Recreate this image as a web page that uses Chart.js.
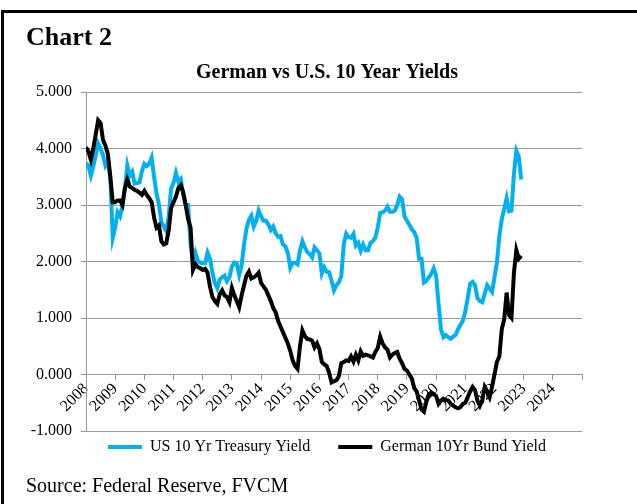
<!DOCTYPE html>
<html>
<head>
<meta charset="utf-8">
<script src="https://cdn.jsdelivr.net/npm/chart.js@4.4.1/dist/chart.umd.min.js"></script>
<style>
  html, body { margin: 0; padding: 0; background: #fff; }
  #wrap { position: relative; width: 637px; height: 504px; overflow: hidden; }
  #frame { position: absolute; left: 1px; top: 10px; width: 700px; height: 600px; border: 3px solid #000; box-sizing: border-box; }
  #heading { position: absolute; left: 26px; top: 24px; font: bold 26px/26px "Liberation Serif", serif; color: #000; }
  #source { position: absolute; left: 26px; top: 475px; font: 20px/20px "Liberation Serif", serif; color: #000; }
  #chart { position: absolute; left: 0; top: 0; }
</style>
</head>
<body>
<div id="wrap">
  <div id="frame"></div>
  <canvas id="chart" width="637" height="504"></canvas>
  <div id="heading">Chart 2</div>
  <div id="source">Source: Federal Reserve, FVCM</div>
</div>
<script>
// monthly data, Jan 2008 .. Dec 2022
const startYear = 2008;
const yearTicks = [2008, 2009, 2010, 2011, 2012, 2013, 2014, 2015, 2016, 2017, 2018, 2019, 2020, 2021, 2022, 2023, 2024];

const usYields = [
    3.74, 3.70, 3.52, 3.68, 3.88, 4.09, 4.00, 3.88, 3.70, 3.78, 3.50, 2.42, // 2008
    2.60, 2.87, 2.80, 3.00, 3.30, 3.70, 3.52, 3.59, 3.38, 3.39, 3.40, 3.60, // 2009
    3.73, 3.69, 3.73, 3.84, 3.50, 3.20, 3.01, 2.70, 2.62, 2.54, 2.80, 3.29, // 2010
    3.39, 3.57, 3.41, 3.46, 3.17, 3.00, 3.00, 2.30, 1.98, 2.15, 2.01, 1.98, // 2011
    1.97, 1.97, 2.16, 2.05, 1.80, 1.62, 1.53, 1.68, 1.72, 1.75, 1.65, 1.72, // 2012
    1.91, 1.98, 1.96, 1.76, 1.93, 2.30, 2.58, 2.74, 2.81, 2.62, 2.72, 2.90, // 2013
    2.80, 2.72, 2.72, 2.66, 2.56, 2.62, 2.50, 2.44, 2.45, 2.30, 2.27, 2.15, // 2014
    1.89, 1.98, 1.98, 1.95, 2.19, 2.36, 2.25, 2.17, 2.13, 2.07, 2.25, 2.20, // 2015
    2.14, 1.79, 1.90, 1.82, 1.81, 1.66, 1.49, 1.58, 1.63, 1.74, 2.30, 2.49, // 2016
    2.43, 2.42, 2.49, 2.28, 2.33, 2.19, 2.30, 2.20, 2.20, 2.33, 2.36, 2.42, // 2017
    2.60, 2.86, 2.87, 2.90, 2.97, 2.88, 2.88, 2.90, 3.00, 3.15, 3.10, 2.80, // 2018
    2.72, 2.65, 2.57, 2.52, 2.42, 2.05, 2.05, 1.63, 1.66, 1.72, 1.78, 1.88, // 2019
    1.75, 1.25, 0.80, 0.66, 0.70, 0.66, 0.63, 0.67, 0.70, 0.80, 0.88, 0.95, // 2020
    1.12, 1.35, 1.61, 1.64, 1.58, 1.35, 1.30, 1.28, 1.43, 1.58, 1.52, 1.46, // 2021
    1.72, 1.98, 2.45, 2.75, 2.93, 3.12, 2.89, 2.90, 3.55, 3.96, 3.86, 3.45  // 2022
];

const deYields = [
    4.02, 3.95, 3.80, 4.00, 4.25, 4.50, 4.45, 4.15, 4.05, 3.90, 3.50, 3.05, // 2008
    3.05, 3.08, 3.08, 3.00, 3.30, 3.45, 3.33, 3.30, 3.27, 3.25, 3.22, 3.18, // 2009
    3.25, 3.18, 3.12, 3.05, 2.78, 2.60, 2.64, 2.36, 2.30, 2.32, 2.55, 2.95, // 2010
    3.05, 3.15, 3.30, 3.35, 3.22, 3.00, 2.75, 2.60, 1.85, 1.95, 1.90, 1.88, // 2011
    1.85, 1.87, 1.80, 1.55, 1.37, 1.30, 1.25, 1.42, 1.49, 1.40, 1.37, 1.28, // 2012
    1.53, 1.40, 1.30, 1.19, 1.40, 1.58, 1.75, 1.82, 1.70, 1.72, 1.75, 1.80, // 2013
    1.62, 1.56, 1.50, 1.40, 1.30, 1.18, 1.10, 0.95, 0.85, 0.75, 0.65, 0.55, // 2014
    0.42, 0.25, 0.15, 0.10, 0.50, 0.78, 0.68, 0.63, 0.62, 0.60, 0.48, 0.55, // 2015
    0.45, 0.22, 0.18, 0.15, 0.03, -0.14, -0.12, -0.10, -0.03, 0.20, 0.22, 0.25, // 2016
    0.24, 0.32, 0.23, 0.35, 0.25, 0.41, 0.33, 0.35, 0.34, 0.32, 0.30, 0.40, // 2017
    0.47, 0.67, 0.55, 0.48, 0.44, 0.30, 0.35, 0.38, 0.40, 0.28, 0.20, 0.10, // 2018
    0.07, 0.00, -0.07, -0.24, -0.30, -0.46, -0.62, -0.66, -0.48, -0.35, -0.32, -0.35, // 2019
    -0.38, -0.52, -0.46, -0.43, -0.45, -0.46, -0.52, -0.55, -0.58, -0.60, -0.58, -0.52, // 2020
    -0.50, -0.40, -0.30, -0.22, -0.28, -0.46, -0.55, -0.45, -0.22, -0.30, -0.40, -0.22, // 2021
    0.00, 0.22, 0.32, 0.80, 0.98, 1.45, 1.05, 1.00, 1.80, 2.20, 2.05, 2.10  // 2022
];

const serif = '"Liberation Serif", "Times New Roman", serif';

// x = decimal year of each month
const toPoints = (values) => values.map((v, i) => ({ x: startYear + i / 12, y: v }));

const ctx = document.getElementById('chart');

new Chart(ctx, {
    type: 'line',
    data: {
        datasets: [{
            label: 'US 10 Yr Treasury Yield',
            data: toPoints(usYields),
            borderColor: '#00B0F0',
            backgroundColor: '#00B0F0',
            borderWidth: 4,
            pointRadius: 0,
            tension: 0,
            order: 1
        }, {
            label: 'German 10Yr Bund Yield',
            data: toPoints(deYields),
            borderColor: '#000000',
            backgroundColor: '#000000',
            borderWidth: 4,
            pointRadius: 0,
            tension: 0,
            order: 0
        }]
    },
    options: {
        responsive: false,
        animation: false,
        layout: {
            padding: { top: 10, left: 72, right: 55, bottom: 39 }
        },
        plugins: {
            title: {
                display: true,
                text: 'German vs U.S. 10 Year Yields',
                color: '#000',
                font: { family: serif, size: 20, weight: 'bold' },
                padding: { top: 51, bottom: 7 }
            },
            legend: {
                position: 'bottom',
                labels: {
                    color: '#000',
                    font: { family: serif, size: 16 },
                    usePointStyle: true,
                    pointStyle: 'line',
                    pointStyleWidth: 34,
                    padding: 8,
                    sort: (a, b) => a.datasetIndex - b.datasetIndex,
                    generateLabels: (chart) => {
                        const items = Chart.defaults.plugins.legend.labels.generateLabels(chart);
                        items.forEach(item => {
                            if (item.datasetIndex === 0) item.text += '\u00a0\u00a0\u00a0\u00a0\u00a0';
                        });
                        return items;
                    }
                }
            },
            tooltip: { enabled: false }
        },
        scales: {
            x: {
                type: 'linear',
                position: { y: 0 },
                min: 2008,
                max: 2025,
                ticks: {
                    stepSize: 1,
                    autoSkip: false,
                    minRotation: 45,
                    maxRotation: 45,
                    padding: 0,
                    color: '#000',
                    font: { family: serif, size: 16 },
                    callback: (v) => yearTicks.includes(v) ? String(v) : ''
                },
                grid: { drawOnChartArea: false, drawTicks: true, tickLength: 5, color: '#999' },
                border: { color: '#999', width: 1 }
            },
            y: {
                min: -1,
                max: 5,
                ticks: {
                    stepSize: 1,
                    padding: 9,
                    color: '#000',
                    font: { family: serif, size: 16 },
                    callback: (v) => v.toFixed(3)
                },
                grid: { color: '#999', lineWidth: 1, tickLength: 5 },
                border: { color: '#999', width: 1 },
                afterFit: (scale) => {
                    scale.width = 14;
                    // labels sit left of the narrow axis box, so don't clip them to it
                    scale._computeLabelArea = () => undefined;
                }
            }
        }
    }
});
</script>
</body>
</html>
